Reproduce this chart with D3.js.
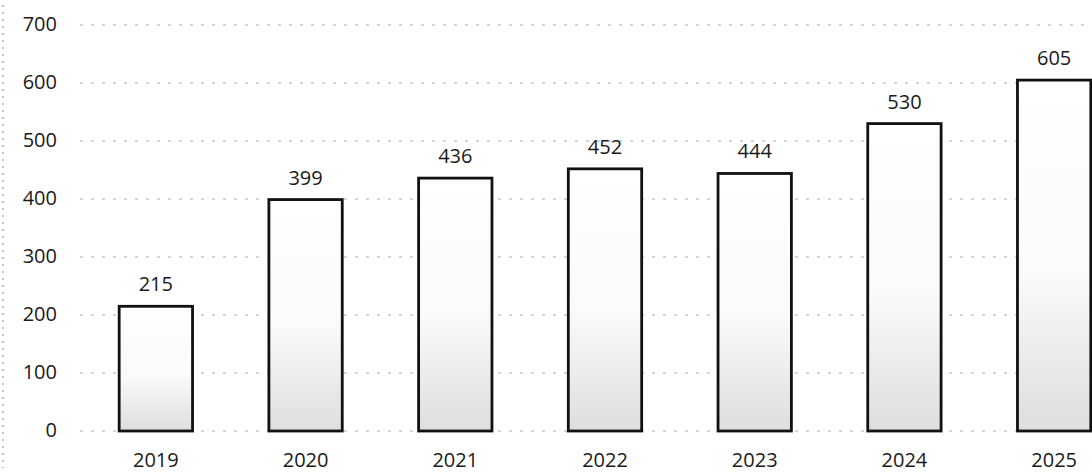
<!DOCTYPE html>
<html><head><meta charset="utf-8">
<script src="https://cdn.jsdelivr.net/npm/d3@7"></script>
<style>
html,body{margin:0;padding:0;background:#fff;}
svg{display:block;}
text{font-family:"Open Sans",Lato,sans-serif;fill:#1a1a1a;}
</style></head>
<body>
<script>
const categories = ["2019","2020","2021","2022","2023","2024","2025"];
const values = [215,399,436,452,444,530,605];
const yTicks = [0,100,200,300,400,500,600,700];

const W = 1092, H = 472;
const FONT = "'Open Sans',Lato,sans-serif";
const svg = d3.select("body").append("svg").attr("width", W).attr("height", H);

const x = d3.scaleBand().domain(categories).range([81, 1129]).paddingInner(0.51).paddingOuter(0.255);
const y = d3.scaleLinear().domain([0, 700]).range([431, 25]);

// faint left border
svg.append("line").attr("x1",3).attr("x2",3).attr("y1",5).attr("y2",468)
  .attr("stroke","#888").attr("stroke-width",1).attr("stroke-dasharray","2,5");

// gridlines
svg.append("g").selectAll("line").data(yTicks).join("line")
  .attr("x1", 80).attr("x2", W)
  .attr("y1", d => y(d)).attr("y2", d => y(d))
  .attr("stroke", "#aaa").attr("stroke-width", 1)
  .attr("stroke-dasharray", "3,8");

// y axis labels
const yAxis = d3.axisLeft(y).tickValues(yTicks).tickSize(0).tickPadding(0);
const gy = svg.append("g").attr("transform","translate(57,0)").call(yAxis);
gy.select(".domain").remove();
gy.selectAll("text").attr("font-size", 20).attr("font-family", FONT).attr("fill","#1a1a1a").attr("dy","0.27em");

// gradient for scan-like shading
const defs = svg.append("defs");
const grad = defs.append("linearGradient").attr("id","shade").attr("x1",0).attr("x2",0).attr("y1",0).attr("y2",1);
grad.append("stop").attr("offset","0%").attr("stop-color","#fff");
grad.append("stop").attr("offset","55%").attr("stop-color","#fafafa");
grad.append("stop").attr("offset","100%").attr("stop-color","#dedede");

// bars
svg.append("g").selectAll("rect").data(values).join("rect")
  .attr("x", (d,i) => x(categories[i]))
  .attr("y", d => y(d))
  .attr("width", x.bandwidth())
  .attr("height", d => y(0) - y(d))
  .attr("fill", "url(#shade)")
  .attr("stroke", "#111").attr("stroke-width", 2.8);

// value labels
svg.append("g").selectAll("text").data(values).join("text")
  .attr("x", (d,i) => x(categories[i]) + x.bandwidth()/2)
  .attr("y", d => y(d) - 15)
  .attr("text-anchor","middle").attr("font-size", 20)
  .text(d => d);

// x axis labels
const xAxis = d3.axisBottom(x).tickSize(0).tickPadding(0);
const gx = svg.append("g").attr("transform","translate(0,453)").call(xAxis);
gx.select(".domain").remove();
gx.selectAll("text").attr("font-size", 20).attr("font-family", FONT).attr("fill","#1a1a1a");
</script>
</body></html>
